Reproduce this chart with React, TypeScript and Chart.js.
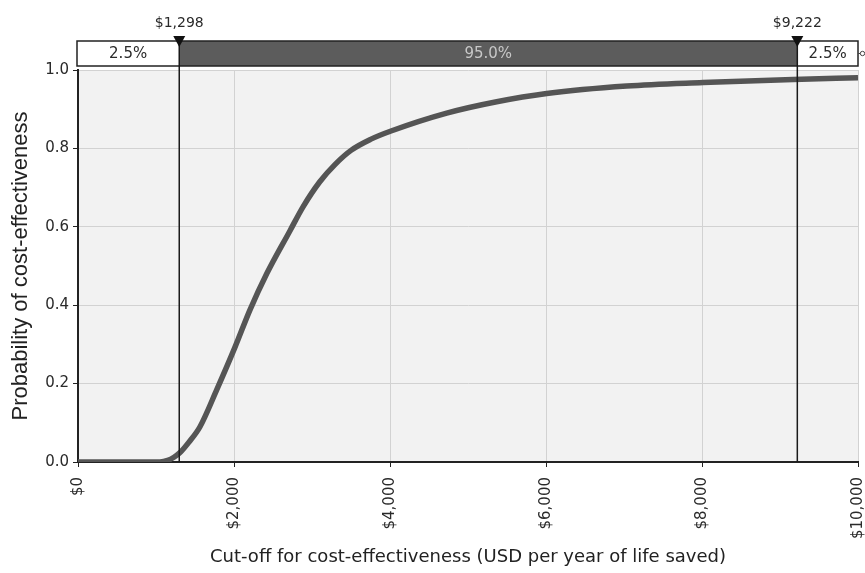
import React, { useEffect, useRef } from "react";
import { Chart, registerables } from "chart.js";

Chart.register(...registerables);

const cutoffValues = [0, 1050, 1150, 1230, 1308, 1420, 1564, 1778, 2013, 2205, 2419, 2718, 2885, 3100, 3300, 3500, 3750, 4022, 4727, 5368, 6009, 7035, 8013, 9167, 10000];
const probabilityValues = [0, 0, 0.004, 0.012, 0.024, 0.05, 0.09, 0.184, 0.293, 0.388, 0.48, 0.59, 0.651, 0.715, 0.76, 0.795, 0.823, 0.845, 0.89, 0.919, 0.94, 0.959, 0.968, 0.976, 0.98];

const lowerBound = 1298;
const upperBound = 9222;
const bandLabels = ["2.5%", "95.0%", "2.5%"];
const boundLabels = ["$1,298", "$9,222"];

const xTicks = [0, 2000, 4000, 6000, 8000, 10000];
const yTicks = [0, 0.2, 0.4, 0.6, 0.8, 1.0];

const tahoma = "'DejaVu Sans', Verdana, sans-serif";

const bandPlugin = {
  id: "bandPlugin",
  beforeDraw(chart: any) {
    const { ctx, chartArea } = chart;
    ctx.save();
    ctx.fillStyle = "#f2f2f2";
    ctx.fillRect(chartArea.left, chartArea.top, chartArea.right - chartArea.left, chartArea.bottom - chartArea.top);
    ctx.restore();
  },
  afterDraw(chart: any) {
    const { ctx, chartArea } = chart;
    const xs = chart.scales.x;
    const p1 = xs.getPixelForValue(lowerBound);
    const p2 = xs.getPixelForValue(upperBound);
    const left = chartArea.left - 1;
    const right = chartArea.right;
    const top = chartArea.top - 29;
    const h = 25;
    ctx.save();
    ctx.fillStyle = "#ffffff";
    ctx.fillRect(left, top, p1 - left, h);
    ctx.fillRect(p2, top, right - p2, h);
    ctx.fillStyle = "#5c5c5c";
    ctx.fillRect(p1, top, p2 - p1, h);
    ctx.strokeStyle = "#222";
    ctx.lineWidth = 1.5;
    ctx.strokeRect(left, top, right - left, h);
    ctx.font = "15px " + tahoma;
    ctx.textAlign = "center";
    ctx.textBaseline = "middle";
    ctx.fillStyle = "#2a2a2a";
    ctx.fillText(bandLabels[0], (left + p1) / 2, top + h / 2 + 1);
    ctx.fillText(bandLabels[2], (p2 + right) / 2, top + h / 2 + 1);
    ctx.fillStyle = "#c8c8c8";
    ctx.fillText(bandLabels[1], (p1 + p2) / 2, top + h / 2 + 1);
    ctx.beginPath();
    ctx.moveTo(right, top + h / 2);
    ctx.lineTo(right + 3, top + h / 2);
    ctx.strokeStyle = "#444";
    ctx.lineWidth = 1;
    ctx.stroke();
    ctx.beginPath();
    ctx.arc(right + 4.5, top + h / 2, 2.2, 0, Math.PI * 2);
    ctx.fillStyle = "#fff";
    ctx.fill();
    ctx.stroke();
    [p1, p2].forEach((p, i) => {
      ctx.beginPath();
      ctx.moveTo(p, top);
      ctx.lineTo(p, chartArea.bottom);
      ctx.strokeStyle = "#1a1a1a";
      ctx.lineWidth = 1.5;
      ctx.stroke();
      ctx.beginPath();
      ctx.moveTo(p - 6, top - 5);
      ctx.lineTo(p + 6, top - 5);
      ctx.lineTo(p, top + 6);
      ctx.closePath();
      ctx.fillStyle = "#111";
      ctx.fill();
      ctx.font = "14px " + tahoma;
      ctx.fillStyle = "#2a2a2a";
      ctx.textAlign = "center";
      ctx.textBaseline = "middle";
      ctx.fillText(boundLabels[i], p, top - 18);
    });
    ctx.restore();
  },
};

export default function App() {
  const ref = useRef<HTMLCanvasElement | null>(null);
  useEffect(() => {
    if (!ref.current) return;
    const chart = new Chart(ref.current, {
      type: "line",
      data: {
        datasets: [
          {
            data: cutoffValues.map((x, i) => ({ x, y: probabilityValues[i] })),
            borderColor: "#555555",
            borderWidth: 5.5,
            pointRadius: 0,
            cubicInterpolationMode: "monotone",
            fill: false,
          },
        ],
      },
      options: {
        animation: false,
        responsive: true,
        maintainAspectRatio: false,
        layout: { padding: { top: 70, right: 7, left: 0, bottom: 0 } },
        plugins: { legend: { display: false }, tooltip: { enabled: false } },
        scales: {
          x: {
            type: "linear",
            min: 0,
            max: 10000,
            afterBuildTicks: (s: any) => {
              s.ticks = xTicks.map((v) => ({ value: v }));
            },
            afterFit: (s: any) => {
              s.height = 111;
              s.paddingRight = 0;
              s.paddingLeft = 0;
            },
            ticks: {
              autoSkip: false,
              minRotation: 90,
              maxRotation: 90,
              padding: 10,
              color: "#2a2a2a",
              font: { family: tahoma, size: 15 },
              callback: (v: any) => "$" + Number(v).toLocaleString("en-US"),
            },
            grid: { color: "#d2d2d2", lineWidth: 1, tickLength: 5, tickColor: "#222" },
            border: { color: "#222", width: 2 },
            title: {
              display: true,
              text: "Cut-off for cost-effectiveness (USD per year of life saved)",
              color: "#222",
              font: { family: tahoma, size: 18 },
              padding: { top: 0, bottom: 5 },
            },
          },
          y: {
            type: "linear",
            min: 0,
            max: 1,
            afterBuildTicks: (s: any) => {
              s.ticks = yTicks.map((v) => ({ value: v }));
            },
            afterFit: (s: any) => {
              s.width = 78;
            },
            ticks: {
              padding: 4,
              color: "#2a2a2a",
              font: { family: tahoma, size: 15 },
              callback: (v: any) => Number(v).toFixed(1),
            },
            grid: { color: "#d2d2d2", lineWidth: 1, tickLength: 5, tickColor: "#222" },
            border: { color: "#222", width: 2 },
            title: {
              display: true,
              text: "Probability of cost-effectiveness",
              color: "#222",
              font: { family: "'Liberation Sans', Arial, sans-serif", size: 22 },
              padding: { top: 8, bottom: 0 },
            },
          },
        },
      },
      plugins: [bandPlugin],
    } as any);
    return () => chart.destroy();
  }, []);
  return (
    <div style={{ position: "absolute", left: 0, top: 0, width: 865, height: 573, background: "#fff" }}>
      <canvas ref={ref} />
    </div>
  );
}
